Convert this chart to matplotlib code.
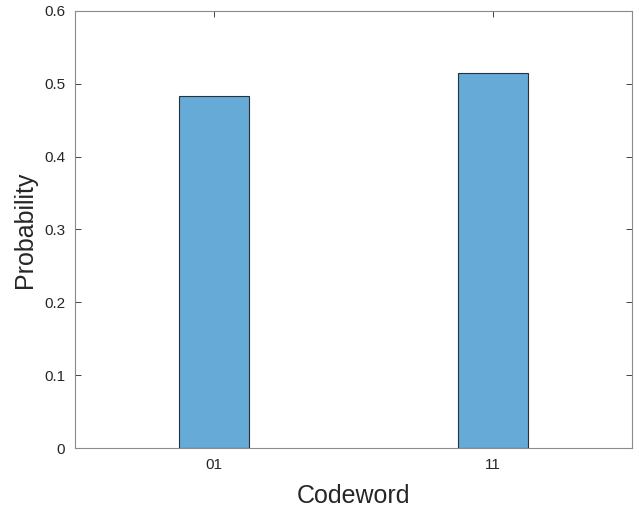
import matplotlib
matplotlib.use("Agg")
import matplotlib.pyplot as plt

categories = ["01", "11"]
probabilities = [0.4835, 0.5155]

plt.rcParams['font.family'] = ['Liberation Sans', 'DejaVu Sans']

fig = plt.figure(figsize=(6.39, 5.13), dpi=100)
ax = fig.add_axes([75/639, 65/513, 557/639, 437/513])
x = list(range(1, len(categories) + 1))
ax.bar(x, probabilities, width=0.25, color='#66aad7', edgecolor='#26313a', linewidth=0.8, zorder=2)
ax.set_xlim(0.5, 2.5)
ax.set_ylim(0, 0.6)
ax.set_xticks(x)
ax.set_xticklabels(categories)
ax.set_yticks([0, 0.1, 0.2, 0.3, 0.4, 0.5, 0.6])
ax.set_yticklabels(['0', '0.1', '0.2', '0.3', '0.4', '0.5', '0.6'])
ax.tick_params(direction='in', top=True, right=True, length=4, width=0.6,
               colors='#262626', labelsize=11, color='#262626', pad=7)
for s in ax.spines.values():
    s.set_color('#8a8a8a')
    s.set_linewidth(0.8)
ax.set_xlabel('Codeword', fontsize=18, color='#262626')
ax.set_ylabel('Probability', fontsize=18, color='#262626')
ax.xaxis.set_label_coords(0.5, -0.082)
ax.yaxis.set_label_coords(-0.069, 0.5)
fig.savefig('out.png', dpi=100)
